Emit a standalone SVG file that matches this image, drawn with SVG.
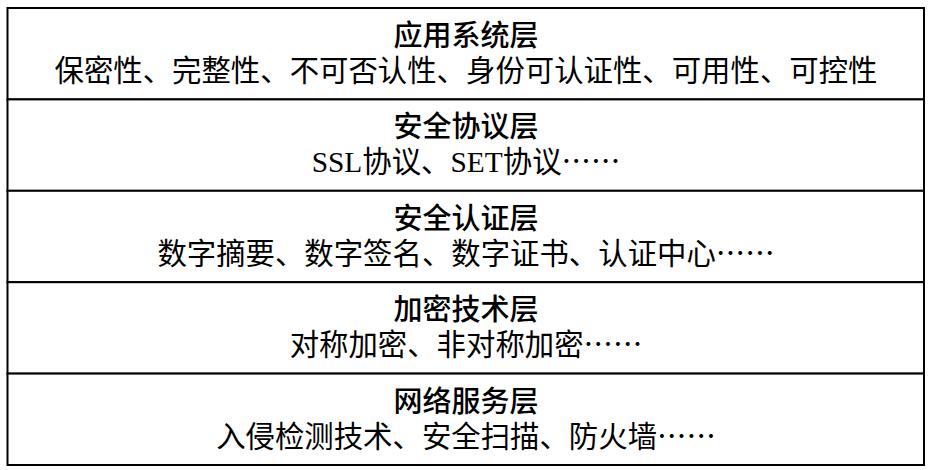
<svg xmlns="http://www.w3.org/2000/svg" width="934" height="470" viewBox="0 0 934 470">
<style>
.box{fill:#fff;stroke:#000;stroke-width:2}
.t{font-family:"Noto Sans CJK SC","Liberation Sans",sans-serif;font-size:29px;font-weight:500;text-anchor:middle;fill:#000}
.b{font-family:"Liberation Serif","Noto Sans CJK SC",serif;font-size:29.4px;text-anchor:middle;fill:#000}
.e{font-family:"Noto Sans CJK SC",sans-serif}
</style>
<rect x="0" y="0" width="934" height="470" fill="#fff"/>
<g id="layer-app">
<rect class="box" x="7.5" y="8" width="916.5" height="91.4"/>
<text class="t" x="466" y="46">应用系统层</text>
<text class="b" x="466" y="81">保密性、完整性、不可否认性、身份可认证性、可用性、可控性</text>
</g>
<g id="layer-protocol">
<rect class="box" x="7.5" y="99.4" width="916.5" height="91.4"/>
<text class="t" x="466" y="137.4">安全协议层</text>
<text class="b" x="466" y="172.4">SSL协议、SET协议<tspan class="e">……</tspan></text>
</g>
<g id="layer-auth">
<rect class="box" x="7.5" y="190.8" width="916.5" height="91.4"/>
<text class="t" x="466" y="228.8">安全认证层</text>
<text class="b" x="466" y="263.8">数字摘要、数字签名、数字证书、认证中心<tspan class="e">……</tspan></text>
</g>
<g id="layer-crypto">
<rect class="box" x="7.5" y="282.2" width="916.5" height="91.4"/>
<text class="t" x="466" y="320.2">加密技术层</text>
<text class="b" x="466" y="355.2">对称加密、非对称加密<tspan class="e">……</tspan></text>
</g>
<g id="layer-network">
<rect class="box" x="7.5" y="373.6" width="916.5" height="91.4"/>
<text class="t" x="466" y="411.6">网络服务层</text>
<text class="b" x="466" y="446.6">入侵检测技术、安全扫描、防火墙<tspan class="e">……</tspan></text>
</g>
</svg>
